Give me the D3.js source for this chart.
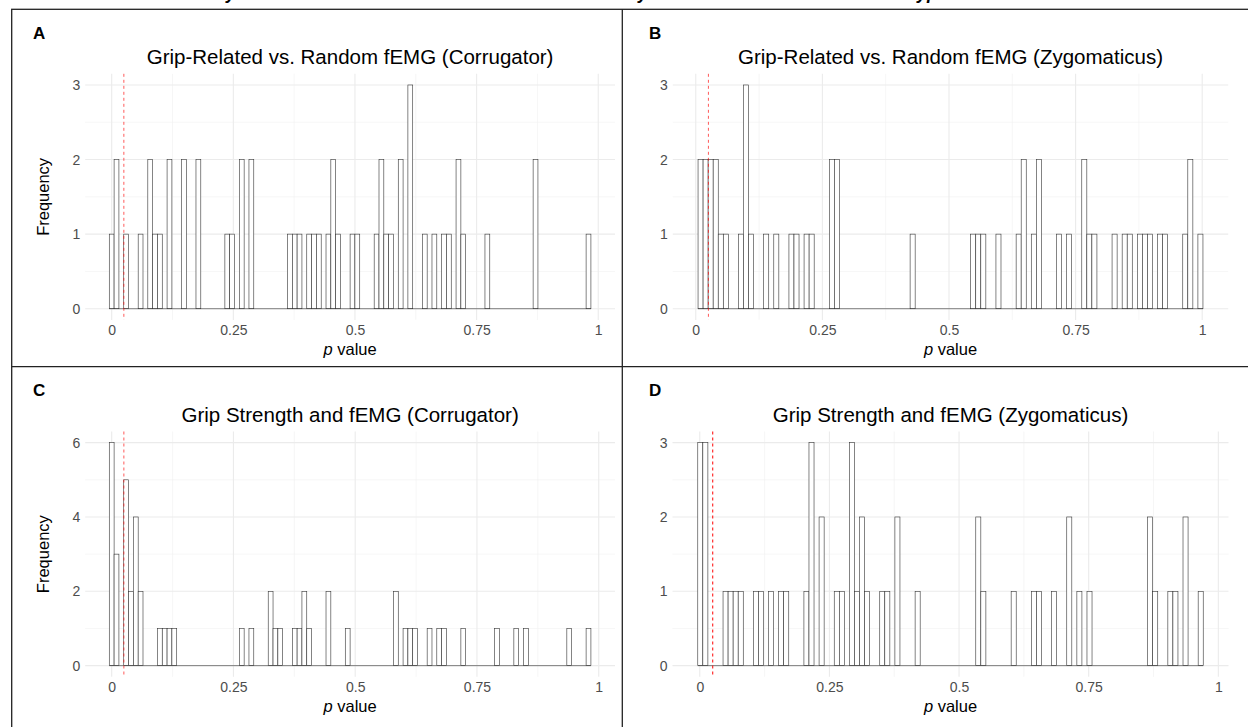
<!DOCTYPE html>
<html>
<head>
<meta charset="utf-8">
<script src="https://cdn.jsdelivr.net/npm/d3@7"></script>
<style>
  body { margin: 0; background: #fff; }
  svg { display: block; }
  text { font-family: "Liberation Sans", Arial, Helvetica, sans-serif; }
</style>
</head>
<body>
<svg id="chart"></svg>
<script>
// Constants for the figure
const WIDTH = 1248;
const HEIGHT = 727;
const N_BINS = 100;

// axis breaks
const xTicks = [0, 0.25, 0.5, 0.75, 1];
const xTickLabels = ["0", "0.25", "0.5", "0.75", "1"];
const yTicksSmall = [0, 1, 2, 3];
const yTicksLarge = [0, 2, 4, 6];

const panelLetters = ["A", "B", "C", "D"];
const panelTitles = [
  "Grip-Related vs. Random fEMG (Corrugator)",
  "Grip-Related vs. Random fEMG (Zygomaticus)",
  "Grip Strength and fEMG (Corrugator)",
  "Grip Strength and fEMG (Zygomaticus)"
];

// reference line (p = .025)
const cutoffP = 0.025;

// p value ranges (lowest / highest p) of each panel, 100 bins between them
const pRangeA = [0.0, 0.98];
const pRangeB = [0.0095, 0.9965];
const pRangeC = [0.0, 0.979];
const pRangeD = [0.001, 0.966];

// non-empty bins (bin index) and their frequencies
const binsA = [0, 1, 3, 6, 8, 9, 10, 12, 15, 18, 24, 25, 27, 29, 37, 38, 39, 41, 42, 43, 45, 46, 47, 50, 51, 55, 56, 57, 58, 60, 62, 65, 67, 69, 70, 72, 73, 78, 88, 99];
const countsA = [1, 2, 1, 1, 2, 1, 1, 2, 2, 2, 1, 1, 2, 2, 1, 1, 1, 1, 1, 1, 1, 2, 1, 1, 1, 1, 2, 1, 1, 2, 3, 1, 1, 1, 1, 2, 1, 1, 2, 1];

const binsB = [0, 1, 2, 3, 4, 5, 8, 9, 10, 13, 15, 18, 19, 21, 22, 26, 27, 42, 54, 55, 56, 59, 63, 64, 66, 67, 71, 73, 76, 77, 78, 82, 84, 85, 87, 88, 89, 91, 92, 96, 97, 99];
const countsB = [2, 2, 2, 2, 1, 1, 1, 3, 1, 1, 1, 1, 1, 1, 1, 2, 2, 1, 1, 1, 1, 1, 1, 2, 1, 2, 1, 1, 2, 1, 1, 1, 1, 1, 1, 1, 1, 1, 1, 1, 2, 1];

const binsC = [0, 1, 3, 4, 5, 6, 10, 11, 12, 13, 27, 29, 33, 34, 35, 38, 39, 40, 41, 45, 49, 59, 61, 62, 63, 66, 68, 69, 73, 80, 84, 86, 95, 99];
const countsC = [6, 3, 5, 2, 4, 2, 1, 1, 1, 1, 1, 1, 2, 1, 1, 1, 1, 2, 1, 2, 1, 2, 1, 1, 1, 1, 1, 1, 1, 1, 1, 1, 1, 1];

const binsD = [0, 1, 5, 6, 7, 8, 11, 12, 14, 16, 17, 21, 22, 24, 27, 28, 30, 31, 32, 33, 36, 37, 39, 43, 55, 56, 62, 66, 67, 70, 73, 75, 77, 89, 90, 93, 94, 96, 99];
const countsD = [3, 3, 1, 1, 1, 1, 1, 1, 1, 1, 1, 1, 3, 2, 1, 1, 3, 1, 2, 1, 1, 1, 2, 1, 2, 1, 1, 1, 1, 1, 2, 1, 1, 2, 1, 1, 1, 2, 1];

// panel layout (plot area of each histogram)
const LAYOUT = [
  { left: 85.2, right: 615, top: 73.8, bottom: 319.9, yTitle: true, letterX: 33, letterY: 38.5 },
  { left: 672.8, right: 1228.2, top: 73.8, bottom: 319.9, yTitle: false, letterX: 649, letterY: 38.5 },
  { left: 85.2, right: 615, top: 431.5, bottom: 676.8, yTitle: true, letterX: 33, letterY: 396 },
  { left: 672.5, right: 1228.5, top: 431.5, bottom: 676.8, yTitle: false, letterX: 649, letterY: 396 }
];

const TICK_FONT = 14;
const AXIS_TITLE_FONT = 16.5;
const TITLE_FONT = 20.5;

const svg = d3.select("#chart").attr("width", WIDTH).attr("height", HEIGHT);

svg.append("rect").attr("width", WIDTH).attr("height", HEIGHT).attr("fill", "#fff");

// figure heading, cut off at the top edge (only descenders visible)
const heading = svg.append("g")
  .attr("font-weight", "bold")
  .attr("font-style", "italic")
  .attr("font-size", 18)
  .attr("fill", "#000");
heading.append("text").attr("x", 226).attr("y", -1).text("y");
heading.append("text").attr("x", 638).attr("y", -1).text("y");
heading.append("text").attr("x", 917).attr("y", -1).text("yp");

// frame and dividers
const frame = svg.append("g").attr("stroke", "#222").attr("stroke-width", 1.3).attr("fill", "none");
frame.append("rect").attr("x", 11.7).attr("y", 9.3).attr("width", WIDTH).attr("height", HEIGHT);
frame.append("line").attr("x1", 622.3).attr("x2", 622.3).attr("y1", 9.3).attr("y2", HEIGHT);
frame.append("line").attr("x1", 11.7).attr("x2", WIDTH).attr("y1", 366.7).attr("y2", 366.7);

const panelData = [
  { range: pRangeA, bins: binsA, counts: countsA, yTicks: yTicksSmall, lineOpacity: 0.65 },
  { range: pRangeB, bins: binsB, counts: countsB, yTicks: yTicksSmall, lineOpacity: 0.65 },
  { range: pRangeC, bins: binsC, counts: countsC, yTicks: yTicksLarge, lineOpacity: 0.65 },
  { range: pRangeD, bins: binsD, counts: countsD, yTicks: yTicksSmall, lineOpacity: 1 }
];

panelData.forEach((d, i) => drawPanel(d, LAYOUT[i], panelTitles[i], panelLetters[i]));

function drawPanel(data, box, title, letter) {
  const g = svg.append("g");
  const [pMin, pMax] = data.range;
  const binWidth = (pMax - pMin) / (N_BINS - 1);

  // histogram bins centred on pMin + k * binWidth
  const histData = data.bins.map((b, j) => ({
    x0: pMin + (b - 0.5) * binWidth,
    x1: pMin + (b + 0.5) * binWidth,
    count: data.counts[j]
  }));

  // ggplot style 5% expansion
  const lo = pMin - binWidth / 2;
  const hi = pMax + binWidth / 2;
  const padX = (hi - lo) * 0.05;
  const x = d3.scaleLinear().domain([lo - padX, hi + padX]).range([box.left, box.right]);

  const yMax = d3.max(data.yTicks);
  const y = d3.scaleLinear().domain([-0.05 * yMax, 1.05 * yMax]).range([box.bottom, box.top]);

  // minor grid
  const xMinor = d3.pairs(xTicks).map(([a, b]) => (a + b) / 2);
  const yMinor = d3.pairs(data.yTicks).map(([a, b]) => (a + b) / 2);

  const grid = g.append("g").attr("fill", "none");
  grid.selectAll("line.xminor").data(xMinor).enter().append("line")
    .attr("x1", (v) => x(v)).attr("x2", (v) => x(v))
    .attr("y1", box.top).attr("y2", box.bottom)
    .attr("stroke", "#f0f0f0").attr("stroke-width", 0.6);
  grid.selectAll("line.yminor").data(yMinor).enter().append("line")
    .attr("x1", box.left).attr("x2", box.right)
    .attr("y1", (v) => y(v)).attr("y2", (v) => y(v))
    .attr("stroke", "#f0f0f0").attr("stroke-width", 0.6);
  grid.selectAll("line.xmajor").data(xTicks).enter().append("line")
    .attr("x1", (v) => x(v)).attr("x2", (v) => x(v))
    .attr("y1", box.top).attr("y2", box.bottom)
    .attr("stroke", "#ebebeb").attr("stroke-width", 1.1);
  grid.selectAll("line.ymajor").data(data.yTicks).enter().append("line")
    .attr("x1", box.left).attr("x2", box.right)
    .attr("y1", (v) => y(v)).attr("y2", (v) => y(v))
    .attr("stroke", "#ebebeb").attr("stroke-width", 1.1);

  // bars
  g.append("g").selectAll("rect").data(histData).enter().append("rect")
    .attr("x", (d) => x(d.x0))
    .attr("y", (d) => y(d.count))
    .attr("width", (d) => x(d.x1) - x(d.x0))
    .attr("height", (d) => y(0) - y(d.count))
    .attr("fill", "#fff")
    .attr("stroke", "#333")
    .attr("stroke-width", 0.6);

  // baseline of the empty bins
  g.append("line")
    .attr("x1", x(lo)).attr("x2", x(hi))
    .attr("y1", y(0)).attr("y2", y(0))
    .attr("stroke", "#333").attr("stroke-width", 0.6);

  // reference line
  g.append("line")
    .attr("x1", x(cutoffP)).attr("x2", x(cutoffP))
    .attr("y1", box.top).attr("y2", box.bottom)
    .attr("stroke", "red")
    .attr("stroke-opacity", data.lineOpacity)
    .attr("stroke-width", 1)
    .attr("stroke-dasharray", "3,3");

  // x axis labels
  const xAxis = d3.axisBottom(x).tickValues(xTicks).tickFormat((v, k) => xTickLabels[k]).tickSize(0).tickPadding(0);
  const xg = g.append("g").attr("transform", `translate(0, ${box.bottom + 5})`).call(xAxis);
  xg.select(".domain").remove();
  xg.selectAll("text").attr("font-size", TICK_FONT).attr("fill", "#4d4d4d")
    .attr("font-family", '"Liberation Sans", Arial, sans-serif').attr("dy", "0.71em");

  // y axis labels
  const yAxis = d3.axisLeft(y).tickValues(data.yTicks).tickFormat(d3.format("d")).tickSize(0).tickPadding(0);
  const yg = g.append("g").attr("transform", `translate(${box.left - 5}, 0)`).call(yAxis);
  yg.select(".domain").remove();
  yg.selectAll("text").attr("font-size", TICK_FONT).attr("fill", "#4d4d4d")
    .attr("font-family", '"Liberation Sans", Arial, sans-serif');

  // axis titles
  const xTitle = g.append("text")
    .attr("x", (box.left + box.right) / 2)
    .attr("y", box.bottom + 35)
    .attr("text-anchor", "middle")
    .attr("font-size", AXIS_TITLE_FONT)
    .attr("fill", "#000");
  xTitle.append("tspan").attr("font-style", "italic").text("p");
  xTitle.append("tspan").text(" value");

  if (box.yTitle) {
    g.append("text")
      .attr("transform", `translate(49, ${(box.top + box.bottom) / 2}) rotate(-90)`)
      .attr("text-anchor", "middle")
      .attr("font-size", AXIS_TITLE_FONT)
      .attr("fill", "#000")
      .text("Frequency");
  }

  // panel title
  g.append("text")
    .attr("x", (box.left + box.right) / 2)
    .attr("y", box.top - 9.5)
    .attr("text-anchor", "middle")
    .attr("font-size", TITLE_FONT)
    .attr("fill", "#000")
    .text(title);

  // panel letter
  g.append("text")
    .attr("x", box.letterX)
    .attr("y", box.letterY)
    .attr("font-size", 17)
    .attr("font-weight", "bold")
    .attr("fill", "#000")
    .text(letter);
}
</script>
</body>
</html>
